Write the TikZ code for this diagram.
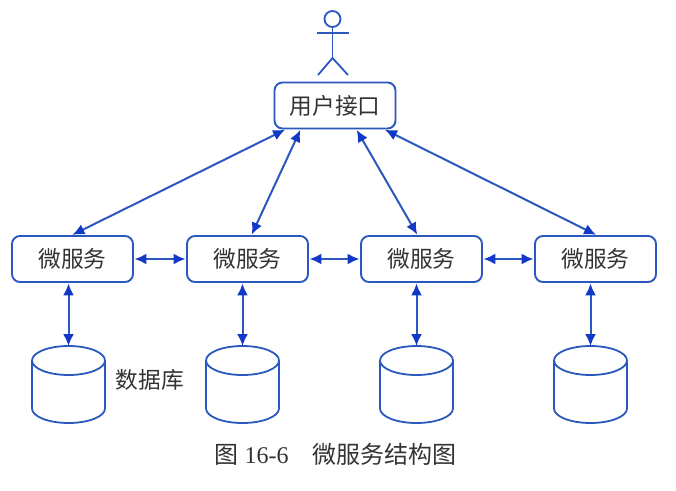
\documentclass[tikz,border=0pt]{standalone}
\usepackage{fontspec}
\setmainfont{Liberation Serif}
\newfontfamily\cjk{Noto Sans CJK SC}
\usetikzlibrary{arrows.meta}
\definecolor{linec}{HTML}{2A58BE}
\definecolor{tipc}{HTML}{1238C8}
\definecolor{textc}{HTML}{333333}
\tikzset{
  svc/.style={draw=linec,line width=1.9pt,rounded corners=8pt,minimum width=121pt,minimum height=46pt,inner sep=0pt,text=textc,font=\cjk\fontsize{22.7}{24}\selectfont},
  link/.style={draw=linec,line width=2pt,{Latex[length=12pt,width=11pt,color=tipc]}-{Latex[length=12pt,width=11pt,color=tipc]},shorten >=0.5pt,shorten <=0.5pt},
  storebox/.style={minimum width=73pt,minimum height=77pt,inner sep=0pt,outer sep=0pt},
  storeline/.style={draw=linec,line width=1.8pt},
  lbl/.style={text=textc,inner sep=0pt},
  figure line/.style={draw=linec,line width=1.8pt}
}
\newcommand{\dbstore}[2]{%
  \node[storebox] (#1) at (#2,385) {};
  \draw[storeline] (#2,360.5) ellipse [x radius=36.5pt,y radius=14.5pt];
  \draw[storeline] (#2-36.5,360.5) -- (#2-36.5,408.5)
    arc [start angle=180,end angle=360,x radius=36.5pt,y radius=14.5pt] -- (#2+36.5,360.5);
}
\begin{document}
\begin{tikzpicture}[x=1pt,y=-1pt]
\useasboundingbox (0,0) rectangle (676,490);
\node[svc] (api) at (335,105.5) {用户接口};
\node[svc] (m1) at (72.5,259) {微服务};
\node[svc] (m2) at (247.5,259) {微服务};
\node[svc] (m3) at (421.5,259) {微服务};
\node[svc] (m4) at (595.5,259) {微服务};
\dbstore{d1}{68.5}
\dbstore{d2}{242.5}
\dbstore{d3}{416.5}
\dbstore{d4}{590.5}
\draw[link] ([xshift=12pt]api.south west) -- ([xshift=-0.5pt]m1.north);
\draw[link] ([xshift=27pt]api.south west) -- ([xshift=4pt]m2.north);
\draw[link] ([xshift=-40pt]api.south east) -- ([xshift=-4pt]m3.north);
\draw[link] ([xshift=-12pt]api.south east) -- ([xshift=1pt]m4.north);
\draw[link] (m1) -- (m2);
\draw[link] (m2) -- (m3);
\draw[link] (m3) -- (m4);
\draw[link] (m1.south -| d1.north) -- (d1.north);
\draw[link] (m2.south -| d2.north) -- (d2.north);
\draw[link] (m3.south -| d3.north) -- (d3.north);
\draw[link] (m4.south -| d4.north) -- (d4.north);
\node[lbl,font=\cjk\fontsize{22.7}{24}\selectfont] (dblabel) at (150,380) {数据库};
\node[lbl,font=\fontsize{24}{26}\selectfont] (cap) at (335.5,454) {{\cjk 图} 16-6\hspace{1em}{\cjk 微服务结构图}};
\draw[figure line] (332.5,19) circle (8);
\draw[figure line] (332.5,27) -- (332.5,58);
\draw[figure line] (317,33) -- (349,33);
\draw[figure line] (318,75) -- (332.5,58) -- (348,75);
\end{tikzpicture}
\end{document}
